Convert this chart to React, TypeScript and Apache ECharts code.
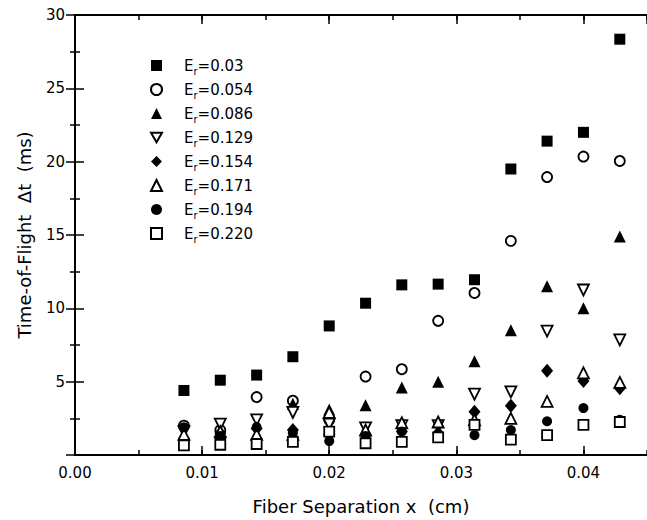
import React, { useEffect, useRef } from 'react';
import * as echarts from 'echarts';

// Fiber separation x (cm)
const xs = [0.00857, 0.01143, 0.01429, 0.01714, 0.02, 0.02286, 0.02571, 0.02857, 0.03143, 0.03429, 0.03714, 0.04, 0.04286];

// Er values (legend labels)
const erLabels = ['0.03', '0.054', '0.086', '0.129', '0.154', '0.171', '0.194', '0.220'];

// Time-of-flight (ms) per Er
const er003 = [4.4, 5.1, 5.45, 6.7, 8.8, 10.35, 11.6, 11.65, 11.95, 19.5, 21.4, 22.0, 28.35];
const er0054 = [2.0, 1.7, 3.95, 3.7, 2.4, 5.35, 5.85, 9.15, 11.05, 14.6, 18.95, 20.35, 20.05];
const er0086 = [1.3, 1.5, 1.4, 3.5, 3.1, 3.4, 4.6, 5.0, 6.4, 8.5, 11.5, 10.0, 14.9];
const er0129 = [1.6, 2.1, 2.4, 2.9, 2.1, 1.85, 2.0, 2.0, 4.15, 4.3, 8.45, 11.25, 7.85];
const er0154 = [1.1, 1.5, 1.8, 1.7, 1.4, 1.4, 1.6, 1.5, 2.95, 3.35, 5.75, 5.05, 4.55];
const er0171 = [1.4, 1.6, 1.4, 1.4, 2.9, 1.7, 2.2, 2.25, 2.4, 2.5, 3.65, 5.6, 4.95];
const er0194 = [1.9, 1.3, 1.9, 1.5, 0.95, 1.3, 1.6, 1.3, 1.35, 1.7, 2.3, 3.2, 2.4];
const er0220 = [0.65, 0.7, 0.75, 0.9, 1.6, 0.8, 0.9, 1.2, 2.05, 1.05, 1.35, 2.05, 2.25];

const allValues = [er003, er0054, er0086, er0129, er0154, er0171, er0194, er0220];

const DOWN_TRI = 'path://M0,0L10,0L5,8.66Z';
const FONT = 'DejaVu Sans';

const markerStyles = [
  { symbol: 'rect', size: 11, filled: true },
  { symbol: 'circle', size: 10, filled: false },
  { symbol: 'triangle', size: 12, filled: true },
  { symbol: DOWN_TRI, size: 11, filled: false },
  { symbol: 'diamond', size: [12, 14], filled: true },
  { symbol: 'triangle', size: 11, filled: false },
  { symbol: 'circle', size: 10, filled: true },
  { symbol: 'rect', size: 10, filled: false },
];

export default function App() {
  const ref = useRef<HTMLDivElement>(null);

  useEffect(() => {
    if (!ref.current) return;
    const chart = echarts.init(ref.current, undefined, { renderer: 'svg' });

    const series = erLabels.map((name, i) => {
      const m = markerStyles[i];
      return {
        type: 'scatter',
        name,
        xAxisIndex: 0,
        yAxisIndex: 0,
        symbol: m.symbol,
        symbolSize: m.size,
        itemStyle: m.filled
          ? { color: '#000', borderWidth: 0, opacity: 1 }
          : { color: '#fff', borderColor: '#000', borderWidth: 1.8, opacity: 1 },
        data: xs.map((x, j) => [x, allValues[i][j]]),
      };
    });

    const axisLine = { show: true, lineStyle: { color: '#000', width: 2 } };
    const labelStyle = { color: '#000', fontFamily: FONT, fontSize: 15 };
    const nameStyle = { color: '#000', fontFamily: FONT, fontSize: 18 };

    const xBase = { type: 'value', min: 0, max: 0.045, gridIndex: 0, splitLine: { show: false } };

    chart.setOption({
      animation: false,
      backgroundColor: '#fff',
      grid: { left: 75, top: 15, right: -4, bottom: 65, containLabel: false },
      legend: {
        orient: 'vertical',
        left: 150,
        top: 58,
        padding: 0,
        itemWidth: 11,
        itemHeight: 11,
        itemGap: 5.5,
        data: erLabels,
        formatter: (name: string) => `{s|}{a|E}{b|r}{a|=${name}}`,
        textStyle: {
          color: '#000',
          rich: {
            s: { width: 17 },
            a: { fontFamily: FONT, fontSize: 15, lineHeight: 22, verticalAlign: 'middle', color: '#000' },
            b: { fontFamily: FONT, fontSize: 10, lineHeight: 22, verticalAlign: 'bottom', color: '#000' },
          },
        },
      },
      xAxis: [
        {
          ...xBase,
          position: 'bottom',
          interval: 0.005,
          axisLine,
          axisTick: { show: true, inside: true, length: 5, lineStyle: { color: '#000', width: 1.5 } },
          axisLabel: { show: false },
        },
        {
          ...xBase,
          position: 'bottom',
          interval: 0.01,
          axisLine,
          axisTick: { show: true, inside: true, length: 9, lineStyle: { color: '#000', width: 1.5 } },
          axisLabel: {
            ...labelStyle,
            margin: 10,
            showMaxLabel: false,
            formatter: (v: number) => v.toFixed(2),
          },
          name: 'Fiber Separation x  (cm)',
          nameLocation: 'middle',
          nameGap: 42,
          nameTextStyle: nameStyle,
        },
        {
          ...xBase,
          position: 'top',
          interval: 0.005,
          axisLine,
          axisTick: { show: true, inside: true, length: 5, lineStyle: { color: '#000', width: 1.5 } },
          axisLabel: { show: false },
        },
        {
          ...xBase,
          position: 'top',
          interval: 0.01,
          axisLine,
          axisTick: { show: true, inside: true, length: 9, lineStyle: { color: '#000', width: 1.5 } },
          axisLabel: { show: false },
        },
      ],
      yAxis: [
        {
          type: 'value',
          min: 0,
          max: 30,
          interval: 5,
          position: 'left',
          splitLine: { show: false },
          axisLine,
          axisTick: { show: true, inside: true, length: 9, lineStyle: { color: '#000', width: 1.5 } },
          minorTick: { show: true, splitNumber: 2, length: 5, lineStyle: { color: '#000', width: 1.5 } },
          minorSplitLine: { show: false },
          axisLabel: { ...labelStyle, margin: 10, showMinLabel: false },
          name: 'Time-of-Flight  \u0394t  (ms)',
          nameLocation: 'middle',
          nameGap: 42,
          nameTextStyle: nameStyle,
        },
        {
          type: 'value',
          min: 0,
          max: 30,
          interval: 5,
          position: 'right',
          splitLine: { show: false },
          axisLine,
          axisTick: { show: true, inside: true, length: 9, lineStyle: { color: '#000', width: 1.5 } },
          minorTick: { show: true, splitNumber: 2, length: 5, lineStyle: { color: '#000', width: 1.5 } },
          minorSplitLine: { show: false },
          axisLabel: { show: false },
        },
      ],
      series,
    });

    return () => chart.dispose();
  }, []);

  return (
    <div
      ref={ref}
      style={{ position: 'absolute', left: 0, top: 0, width: 647, height: 520, background: '#fff' }}
    />
  );
}
